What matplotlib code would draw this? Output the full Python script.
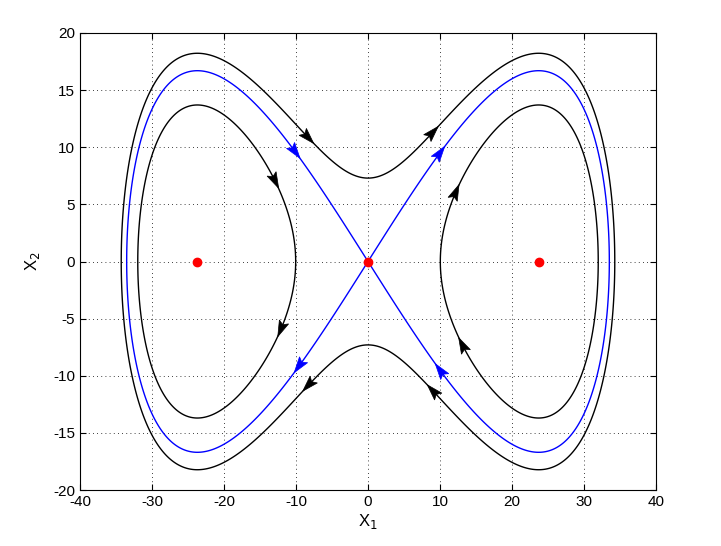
import numpy as np
import matplotlib
matplotlib.use("Agg")
import matplotlib.pyplot as plt
import matplotlib.transforms as mtransforms
from matplotlib.patches import Polygon

plt.rcParams['font.family'] = ['Liberation Sans', 'DejaVu Sans']
plt.rcParams['axes.unicode_minus'] = False

# ---- data ----
equilibrium_x = [-23.7, 0.0, 23.7]
equilibrium_y = [0.0, 0.0, 0.0]
separatrix_peak_x2 = 16.7          # blue curve maximum height (at x1 = +-23.7)
outer_orbit_x2_at_origin = 7.3     # outer black curve crossing of x1 = 0
inner_orbit_peak_x2 = 13.7         # inner black loops maximum height

# arrows: x1 position, orbit name, branch (upper +1 / lower -1)
arrow_x = [-8.3, 9.0, -8.3, 9.0, -12.9, -12.1, 12.2, 13.1, -10.1, 10.0, -9.6, 10.0]
arrow_orbit = ['outer', 'outer', 'outer', 'outer',
               'inner', 'inner', 'inner', 'inner',
               'sep', 'sep', 'sep', 'sep']
arrow_branch = [1, 1, -1, -1, 1, -1, 1, -1, 1, 1, -1, -1]

xticks = [-40, -30, -20, -10, 0, 10, 20, 30, 40]
yticks = [-20, -15, -10, -5, 0, 5, 10, 15, 20]

# ---- system parameters derived from the read values ----
x_eq = equilibrium_x[2]
a = 2 * (separatrix_peak_x2 / x_eq) ** 2
b = a / x_eq ** 2


def energy(x1, x2):
    return 0.5 * x2 ** 2 - 0.5 * a * x1 ** 2 + 0.25 * b * x1 ** 4


levels = {
    'outer': energy(0.0, outer_orbit_x2_at_origin),
    'sep': 0.0,
    'inner': energy(x_eq, inner_orbit_peak_x2),
}

fig = plt.figure(figsize=(7.21, 5.46), dpi=100)
ax = fig.add_axes([80 / 721, 56 / 546, 576 / 721, 457 / 546])

g1 = np.linspace(-40, 40, 1601)
g2 = np.linspace(-20, 20, 1601)
G1, G2 = np.meshgrid(g1, g2)
H = energy(G1, G2)
ax.contour(G1, G2, H, levels=sorted([levels['inner'], levels['outer']]),
           colors='k', linewidths=1.0, linestyles='solid')
ax.contour(G1, G2, H, levels=[levels['sep']], colors='b', linewidths=1.0,
           linestyles='solid')

ax.plot(equilibrium_x, equilibrium_y, 'o', color='r', markersize=6, zorder=5)

ax.set_xlim(-40, 40)
ax.set_ylim(-20, 20)
ax.set_xticks(xticks)
ax.set_yticks(yticks)
ax.tick_params(direction='in', top=True, right=True, labelsize=11, length=4)
ax.grid(True, color='k', linestyle=(0, (1, 4)), linewidth=0.6)
for s in ax.spines.values():
    s.set_linewidth(0.8)
ax.set_xlabel('X$_1$', fontsize=12, labelpad=2)
ax.set_ylabel('X$_2$', fontsize=12, labelpad=8)

# arrows
fig.canvas.draw()
L, W, N = 16.0, 10.0, 13.0
head = np.array([[L / 2, 0], [-L / 2, W / 2], [-L / 2 + (L - N), 0], [-L / 2, -W / 2]])
for x1, orb, br in zip(arrow_x, arrow_orbit, arrow_branch):
    val = 2 * (levels[orb] + 0.5 * a * x1 ** 2 - 0.25 * b * x1 ** 4)
    x2 = br * np.sqrt(max(val, 0))
    v1, v2 = x2, a * x1 - b * x1 ** 3
    p0 = ax.transData.transform((x1, x2))
    p1 = ax.transData.transform((x1 + 1e-3 * v1, x2 + 1e-3 * v2))
    th = np.arctan2(p1[1] - p0[1], p1[0] - p0[0])
    col = 'b' if orb == 'sep' else 'k'
    tr = mtransforms.Affine2D().rotate(th) + mtransforms.ScaledTranslation(x1, x2, ax.transData)
    ax.add_patch(Polygon(head, closed=True, facecolor=col, edgecolor=col,
                         linewidth=0.5, transform=tr, zorder=6))

fig.savefig('out.png', dpi=100)
